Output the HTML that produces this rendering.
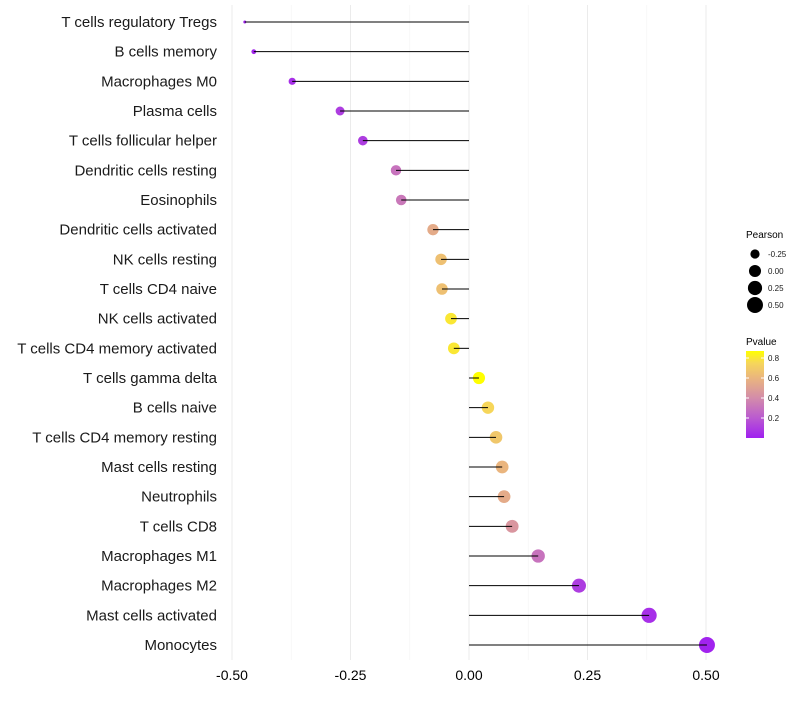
<!DOCTYPE html>
<html><head><meta charset="utf-8"><style>
body{margin:0;background:#fff;font-family:"Liberation Sans",sans-serif}
</style></head><body>
<svg id="chart" width="800" height="700" xmlns="http://www.w3.org/2000/svg" font-family="Liberation Sans, sans-serif"></svg>
<script>
const categories=["T cells regulatory  Tregs","B cells memory","Macrophages M0","Plasma cells","T cells follicular helper","Dendritic cells resting","Eosinophils","Dendritic cells activated","NK cells resting","T cells CD4 naive","NK cells activated","T cells CD4 memory activated","T cells gamma delta","B cells naive","T cells CD4 memory resting","Mast cells resting","Neutrophils","T cells CD8","Macrophages M1","Macrophages M2","Mast cells activated","Monocytes"];
const pearson=[-0.473,-0.454,-0.373,-0.272,-0.224,-0.154,-0.143,-0.076,-0.059,-0.057,-0.038,-0.032,0.021,0.040,0.057,0.070,0.074,0.091,0.146,0.232,0.380,0.502];
const pvalue=[0.01,0.02,0.05,0.1,0.1,0.3,0.32,0.55,0.65,0.65,0.8,0.8,0.87,0.75,0.68,0.6,0.55,0.45,0.3,0.1,0.05,0.01];
const xTicks=[-0.5,-0.25,0,0.25,0.5];
const xTickLabels=["-0.50","-0.25","0.00","0.25","0.50"];
const sizeLegend=[-0.25,0,0.25,0.5];
const colorTicks=[0.2,0.4,0.6,0.8];

const svg=document.getElementById('chart');
const NS="http://www.w3.org/2000/svg";
function mk(t,a,p){const e=document.createElementNS(NS,t);for(const k in a)e.setAttribute(k,a[k]);(p||svg).appendChild(e);return e;}
const x=v=>469+v*474;
const y=i=>22+i*(623/21);
const pmin=Math.min(...pearson),pmax=Math.max(...pearson);
const r=v=>1.5+6.5*Math.sqrt(Math.max(0,(v-pmin)/(pmax-pmin)));
const stops=[[0,[160,32,240]],[0.2,[186,90,208]],[0.4,[211,140,170]],[0.6,[234,181,126]],[0.75,[246,214,90]],[0.87,[255,255,0]]];
function col(p){p=Math.max(0,Math.min(0.87,p));for(let i=1;i<stops.length;i++){if(p<=stops[i][0]){const a=stops[i-1],b=stops[i],t=(p-a[0])/(b[0]-a[0]);return 'rgb('+a[1].map((c,j)=>Math.round(c+(b[1][j]-c)*t)).join(',')+')';}}return 'rgb(255,255,0)';}

// grid
for(let v=-0.5;v<=0.5001;v+=0.125){const major=Math.abs((v*4)-Math.round(v*4))<0.01;const g=mk('line',{x1:x(v),x2:x(v),y1:5,y2:660,stroke:major?'#ebebeb':'#f4f4f4','stroke-width':major?1:0.6});
}
// ticks
xTicks.forEach((v,i)=>{const t=mk('text',{x:x(v),y:680,'text-anchor':'middle','font-size':14,fill:'#000'});t.textContent=xTickLabels[i];
});
// rows
categories.forEach((c,i)=>{
 const t=mk('text',{x:217,y:y(i)+5,'text-anchor':'end','font-size':15,fill:'#1a1a1a'});t.textContent=c;
 
 const d=mk('circle',{cx:x(pearson[i]),cy:y(i),r:r(pearson[i]),fill:col(pvalue[i])});
 
 const l=mk('line',{x1:x(0),x2:x(pearson[i]),y1:y(i),y2:y(i),stroke:'#000','stroke-width':1});
 
});
// size legend
const lt=mk('text',{x:746,y:238,'font-size':10,fill:'#000'});lt.textContent='Pearson';

sizeLegend.forEach((v,i)=>{const cy=254+i*17;
 const c=mk('circle',{cx:755,cy:cy,r:r(v),fill:'#000'});
 const t=mk('text',{x:768,y:cy+3,'font-size':8,fill:'#1a1a1a'});t.textContent=v.toFixed(2);
 });
// color legend
const ct=mk('text',{x:746,y:345,'font-size':10,fill:'#000'});ct.textContent='Pvalue';

const defs=mk('defs',{});const lg=mk('linearGradient',{id:'pg',x1:0,y1:1,x2:0,y2:0},defs);
stops.forEach(s=>mk('stop',{offset:s[0]/0.87,'stop-color':'rgb('+s[1].join(',')+')'},lg));
const cb=mk('rect',{x:746,y:351,width:18,height:87,fill:'url(#pg)'});

const cy0=438,cyScale=100;
colorTicks.forEach(v=>{const yy=cy0-v*cyScale;
 mk('line',{x1:746,x2:749,y1:yy,y2:yy,stroke:'#fff'});mk('line',{x1:761,x2:764,y1:yy,y2:yy,stroke:'#fff'});
 const t=mk('text',{x:768,y:yy+3,'font-size':8,fill:'#1a1a1a'});t.textContent=v.toFixed(1);
 });
</script>
</body></html>
